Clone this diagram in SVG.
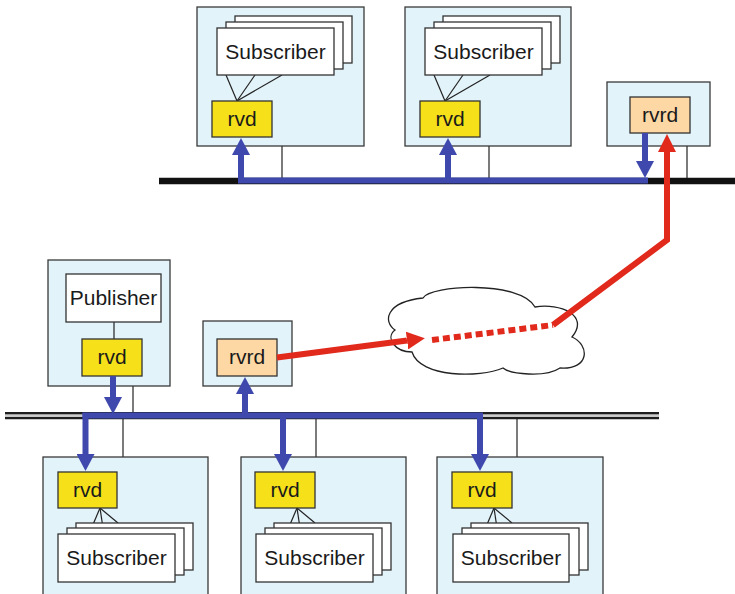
<svg xmlns="http://www.w3.org/2000/svg" width="735" height="594" viewBox="0 0 735 594">
<style>
.host{fill:#E2F3FA;stroke:#3a3a3a;stroke-width:1.3}
.app{fill:#fff;stroke:#333;stroke-width:1.3}
.rvd{fill:#F5E01A;stroke:#333;stroke-width:1.3}
.rvrd{fill:#FDD8A4;stroke:#333;stroke-width:1.3}
.thin{stroke:#222;stroke-width:1.2;fill:none}
.lbl{font-family:"Liberation Sans",Arial,sans-serif;font-size:21px;fill:#1a1a1a;text-anchor:middle}
.blue{stroke:#3F48AC;stroke-width:6;fill:none}
.red{stroke:#E12A1C;stroke-width:6;fill:none}
</style>
<defs>
<marker id="bh" viewBox="0 0 17 18" refX="0" refY="9" markerWidth="17" markerHeight="18" markerUnits="userSpaceOnUse" orient="auto"><path d="M0,0 L17,9 L0,18 z" fill="#3F48AC"/></marker>
<marker id="rh" viewBox="0 0 18 18" refX="0" refY="9" markerWidth="18" markerHeight="18" markerUnits="userSpaceOnUse" orient="auto"><path d="M0,0 L18,9 L0,18 z" fill="#E12A1C"/></marker>
</defs>

<!-- buses -->
<g id="buses">
<line x1="159" y1="181" x2="735" y2="181" stroke="#111" stroke-width="6.5"/>
<line x1="5" y1="413.3" x2="659" y2="413.3" stroke="#1e1e1e" stroke-width="2.6"/>
<line x1="5" y1="418" x2="659" y2="418" stroke="#1e1e1e" stroke-width="2.6"/>
<line x1="5" y1="415.7" x2="659" y2="415.7" stroke="#ccc" stroke-width="1.8"/>
</g>

<!-- thin taps -->
<g id="taps" class="thin">
<line x1="282" y1="146" x2="282" y2="178"/>
<line x1="489" y1="146" x2="489" y2="178"/>
<line x1="687" y1="146" x2="687" y2="178"/>
<line x1="133" y1="386" x2="133" y2="412"/>
<line x1="123" y1="419" x2="123" y2="457"/>
<line x1="316" y1="419" x2="316" y2="457"/>
<line x1="517" y1="419" x2="517" y2="457"/>
</g>

<!-- top subscriber host 1 -->
<g id="top-sub-1">
<rect class="host" x="197" y="7" width="167" height="139"/>
<line class="thin" x1="237" y1="101" x2="226" y2="75"/>
<line class="thin" x1="237" y1="101" x2="255" y2="75"/>
<line class="thin" x1="237" y1="101" x2="282" y2="75"/>
<rect class="app" x="235" y="16" width="117" height="47"/>
<rect class="app" x="226" y="22" width="117" height="47"/>
<rect class="app" x="217" y="28" width="117" height="47"/>
<text class="lbl" x="275.5" y="59">Subscriber</text>
<rect class="rvd" x="212" y="101" width="60" height="36"/>
<text class="lbl" x="242" y="126">rvd</text>
</g>

<!-- top subscriber host 2 -->
<g id="top-sub-2">
<rect class="host" x="405" y="7" width="166" height="139"/>
<line class="thin" x1="445" y1="101" x2="434" y2="75"/>
<line class="thin" x1="445" y1="101" x2="463" y2="75"/>
<line class="thin" x1="445" y1="101" x2="490" y2="75"/>
<rect class="app" x="443" y="16" width="117" height="47"/>
<rect class="app" x="434" y="22" width="117" height="47"/>
<rect class="app" x="425" y="28" width="117" height="47"/>
<text class="lbl" x="483.5" y="59">Subscriber</text>
<rect class="rvd" x="420" y="101" width="60" height="36"/>
<text class="lbl" x="450" y="126">rvd</text>
</g>

<!-- top router host -->
<g id="top-router">
<rect class="host" x="607" y="82" width="103" height="64"/>
<rect class="rvrd" x="630" y="97" width="60" height="36"/>
<text class="lbl" x="660" y="122">rvrd</text>
</g>

<!-- publisher host -->
<g id="publisher">
<rect class="host" x="48" y="260" width="122" height="126"/>
<line class="thin" x1="114" y1="322" x2="114" y2="339"/>
<rect class="app" x="66" y="274" width="95" height="48"/>
<text class="lbl" x="113.5" y="305">Publisher</text>
<rect class="rvd" x="82" y="339" width="60" height="37"/>
<text class="lbl" x="112" y="364">rvd</text>
</g>

<!-- lower router host -->
<g id="low-router">
<rect class="host" x="203" y="321" width="89" height="65"/>
<rect class="rvrd" x="217" y="339" width="60" height="37"/>
<text class="lbl" x="247" y="364">rvrd</text>
</g>

<!-- WAN cloud -->
<g id="cloud">
<path d="M395,330 C383,322 385,302 423,298 C430,285 520,280 535,307 C560,303 590,315 572,337 C590,345 590,370 560,368 C545,378 510,374 503,368 C480,378 420,378 412,352 C395,352 385,338 395,330 Z" fill="#fff" stroke="#222" stroke-width="1.3"/>
</g>

<!-- bottom subscriber hosts -->
<g id="bot-sub-1">
<rect class="host" x="43" y="457" width="165" height="145"/>
<line class="thin" x1="100" y1="508" x2="89" y2="534"/>
<line class="thin" x1="100" y1="508" x2="103" y2="528"/>
<line class="thin" x1="100" y1="508" x2="118" y2="523"/>
<rect class="app" x="76" y="523" width="117" height="47"/>
<rect class="app" x="67" y="528" width="117" height="47"/>
<rect class="app" x="58" y="534" width="117" height="48"/>
<text class="lbl" x="116.5" y="565">Subscriber</text>
<rect class="rvd" x="58" y="472" width="59" height="36"/>
<text class="lbl" x="87.5" y="497">rvd</text>
</g>

<g id="bot-sub-2">
<rect class="host" x="241" y="457" width="165" height="145"/>
<line class="thin" x1="297" y1="508" x2="286" y2="534"/>
<line class="thin" x1="297" y1="508" x2="300" y2="528"/>
<line class="thin" x1="297" y1="508" x2="315" y2="523"/>
<rect class="app" x="274" y="523" width="117" height="47"/>
<rect class="app" x="265" y="528" width="117" height="47"/>
<rect class="app" x="256" y="534" width="117" height="48"/>
<text class="lbl" x="314.5" y="565">Subscriber</text>
<rect class="rvd" x="255" y="472" width="60" height="36"/>
<text class="lbl" x="285" y="497">rvd</text>
</g>

<g id="bot-sub-3">
<rect class="host" x="437" y="457" width="166" height="145"/>
<line class="thin" x1="494" y1="508" x2="483" y2="534"/>
<line class="thin" x1="494" y1="508" x2="497" y2="528"/>
<line class="thin" x1="494" y1="508" x2="512" y2="523"/>
<rect class="app" x="471" y="523" width="117" height="47"/>
<rect class="app" x="462" y="528" width="117" height="47"/>
<rect class="app" x="453" y="534" width="116" height="48"/>
<text class="lbl" x="511" y="565">Subscriber</text>
<rect class="rvd" x="452" y="472" width="60" height="36"/>
<text class="lbl" x="482" y="497">rvd</text>
</g>

<!-- connectors -->
<g id="connectors">
<path class="blue" stroke-width="5" d="M238,180.5 H648"/>
<path class="blue" d="M241,183 V155" marker-end="url(#bh)"/>
<path class="blue" d="M448,183 V155" marker-end="url(#bh)"/>
<path class="blue" d="M645,133 V161" marker-end="url(#bh)"/>
<path class="blue" stroke-width="5" d="M82.5,415.5 H483"/>
<path class="blue" d="M113,376 V397" marker-end="url(#bh)"/>
<path class="blue" d="M245,418 V394" marker-end="url(#bh)"/>
<path class="blue" d="M85.5,413 V454" marker-end="url(#bh)"/>
<path class="blue" d="M283,413 V454" marker-end="url(#bh)"/>
<path class="blue" d="M480,413 V454" marker-end="url(#bh)"/>
<path class="red" d="M277,357.5 L407,340.5" marker-end="url(#rh)"/>
<path class="red" d="M432,340 L553,325" stroke-dasharray="7,4"/>
<path class="red" d="M553,325 L667,240 V152" marker-end="url(#rh)"/>
</g>
</svg>
